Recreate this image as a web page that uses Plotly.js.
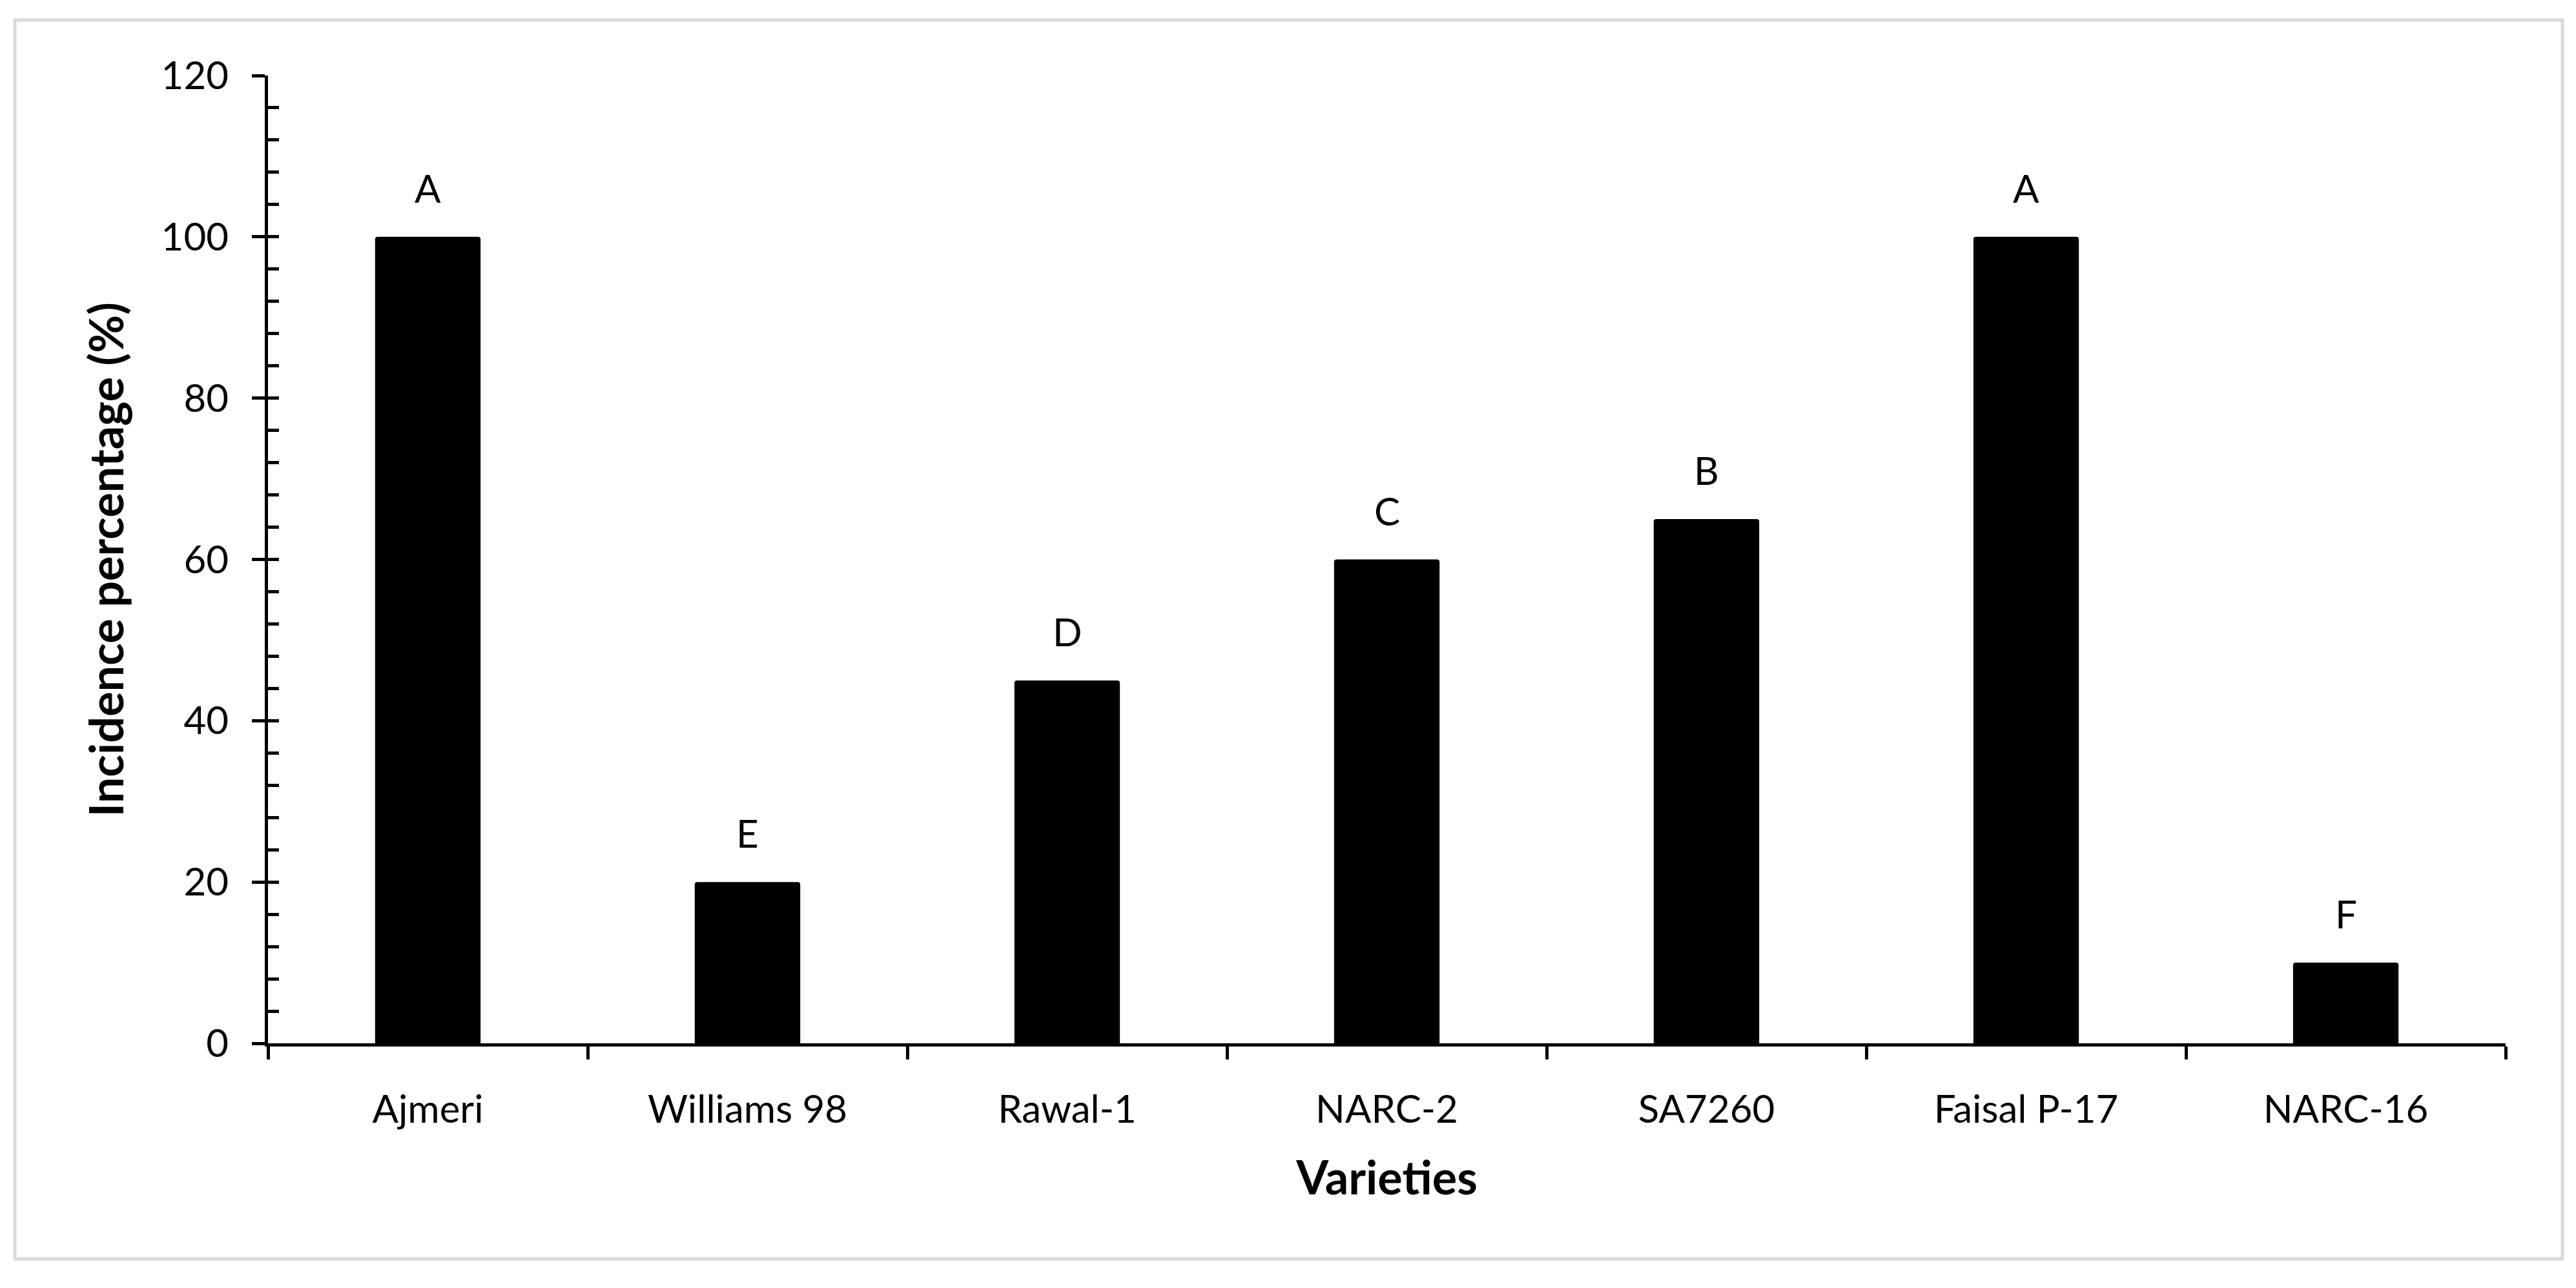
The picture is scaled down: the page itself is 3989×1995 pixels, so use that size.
<!DOCTYPE html>
<html>
<head>
<meta charset="utf-8">
<script src="https://cdn.plot.ly/plotly-3.0.1.min.js"></script>
<style>
  html, body { margin: 0; padding: 0; background: #ffffff; }
  #chart { width: 3989px; height: 1995px; }
</style>
</head>
<body>
<div id="chart"></div>
<script>
// Data
const varieties = ["Ajmeri", "Williams 98", "Rawal-1", "NARC-2", "SA7260", "Faisal P-17", "NARC-16"];
const incidence = [100, 20, 45, 60, 65, 100, 10];
const groupLetters = ["A", "E", "D", "C", "B", "A", "F"];
const yTickValues = [0, 20, 40, 60, 80, 100, 120];

const FONT = "Lato, 'Open Sans', sans-serif";

const barTrace = {
  type: "bar",
  x: varieties,
  y: incidence,
  marker: { color: "#000000", line: { width: 0 }, cornerradius: 4 },
  hoverinfo: "x+y",
  showlegend: false,
  yaxis: "y"
};

// Invisible companion trace so the overlay axis (inside tick marks) is drawn
const overlayTrace = {
  type: "scatter",
  x: varieties,
  y: incidence,
  mode: "none",
  hoverinfo: "skip",
  showlegend: false,
  yaxis: "y2"
};

const annotations = varieties.map((v, i) => ({
  x: v,
  y: incidence[i],
  xref: "x",
  yref: "y",
  text: groupLetters[i],
  showarrow: false,
  yanchor: "bottom",
  yshift: 38,
  font: { family: FONT, size: 60, color: "#000000" }
}));

const layout = {
  width: 3989,
  height: 1995,
  paper_bgcolor: "#ffffff",
  plot_bgcolor: "#ffffff",
  margin: { l: 415, r: 109, t: 117, b: 379, pad: 0 },
  bargap: 0.67,
  font: { family: FONT, color: "#000000" },
  xaxis: {
    type: "category",
    showline: true,
    linecolor: "#000000",
    linewidth: 5,
    ticks: "outside",
    tickson: "boundaries",
    ticklen: 20,
    tickwidth: 5,
    tickcolor: "#000000",
    tickfont: { family: FONT, size: 60, color: "#000000" },
    ticklabelstandoff: 46,
    showgrid: false,
    zeroline: false,
    title: {
      text: "<b>Varieties</b>",
      font: { family: FONT, size: 72, color: "#000000" },
      standoff: 50
    }
  },
  yaxis: {
    range: [0, 120],
    tickvals: yTickValues,
    ticktext: yTickValues.map(String),
    showline: true,
    linecolor: "#000000",
    linewidth: 5,
    ticks: "outside",
    ticklen: 20,
    tickwidth: 5,
    tickcolor: "#000000",
    tickfont: { family: FONT, size: 60, color: "#000000" },
    ticklabelstandoff: 24,
    showgrid: false,
    zeroline: false,
    title: {
      text: "<b>Incidence percentage (%)</b>",
      font: { family: FONT, size: 72, color: "#000000" },
      standoff: 36
    }
  },
  yaxis2: {
    overlaying: "y",
    side: "left",
    range: [0, 120],
    dtick: 4,
    tick0: 0,
    ticks: "inside",
    ticklen: 17,
    tickwidth: 5,
    tickcolor: "#000000",
    showticklabels: false,
    showline: false,
    showgrid: false,
    zeroline: false
  },
  annotations: annotations,
  shapes: [{
    type: "rect",
    xref: "paper",
    yref: "paper",
    x0: -0.1131, x1: 1.0254,
    y0: -0.2228, y1: 1.0574,
    line: { color: "#d9d9d9", width: 5 },
    fillcolor: "rgba(0,0,0,0)",
    layer: "below"
  }]
};

Plotly.newPlot("chart", [barTrace, overlayTrace], layout, { displayModeBar: false, staticPlot: true });
</script>
</body>
</html>
